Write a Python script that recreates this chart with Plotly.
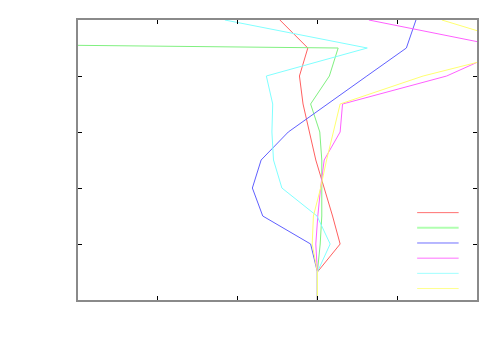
import plotly.graph_objects as go

levels = [0, 1, 2, 3, 4, 5, 6, 7, 8, 9, 10]

red = [6.00, 6.00, 6.57, 6.38, 6.17, 5.96, 5.80, 5.64, 5.55, 5.76, 5.06]
green = [6.00, 6.00, 6.07, 6.11, 6.11, 6.11, 6.06, 5.83, 6.30, 6.52, -62.0]
blue = [6.00, 6.00, 5.83, 4.63, 4.37, 4.59, 5.27, 6.27, 7.24, 8.23, 8.47]
magenta = [6.00, 6.00, 5.96, 6.01, 6.08, 6.17, 6.57, 6.63, 9.24, 10.80, 7.29]
cyan = [6.00, 6.00, 6.32, 5.99, 5.11, 4.90, 4.86, 4.88, 4.72, 7.25, 3.68]
yellow = [6.00, 6.00, 5.87, 5.90, 6.08, 6.23, 6.40, 6.57, 8.65, 11.43, 9.12]

series = [
    ("", red, "#ff6060", 1, "#ff7070", 1),
    ("", green, "#80f080", 1, "#b0ffb0", 2),
    ("", blue, "#6060ff", 1, "#7070ff", 1),
    ("", magenta, "#ff60ff", 1, "#ff70ff", 1),
    ("", cyan, "#80ffff", 1, "#a0ffff", 1),
    ("", yellow, "#ffff70", 1, "#ffff90", 1),
]

fig = go.Figure()
for name, xs, col, w, _, _ in series:
    fig.add_trace(go.Scatter(x=xs, y=levels, mode="lines", name=name,
                             showlegend=False,
                             line=dict(color=col, width=w)))

# key samples (gnuplot-style key without titles)
key_x0, key_x1 = 0.850, 0.954
key_top, key_step = 0.312, 0.0542
for i, (_, _, _, _, kcol, kw) in enumerate(series):
    yk = key_top - i * key_step
    fig.add_shape(type="line", xref="paper", yref="paper",
                  x0=key_x0, x1=key_x1, y0=yk, y1=yk,
                  line=dict(color=kcol, width=kw))

axis_common = dict(
    showgrid=False, zeroline=False, showticklabels=False,
    showline=True, linecolor="#8a8a8a", linewidth=1.5, mirror="allticks",
    ticks="inside", ticklen=4, tickcolor="#000000", tickwidth=1,
    range=[0, 10], dtick=2, tick0=0,
)

fig.update_layout(
    width=492, height=342,
    margin=dict(l=70, r=23, t=10, b=50),
    plot_bgcolor="white", paper_bgcolor="white",
    xaxis=axis_common,
    yaxis=axis_common,
    showlegend=False,
)

fig.write_html("out.html")
